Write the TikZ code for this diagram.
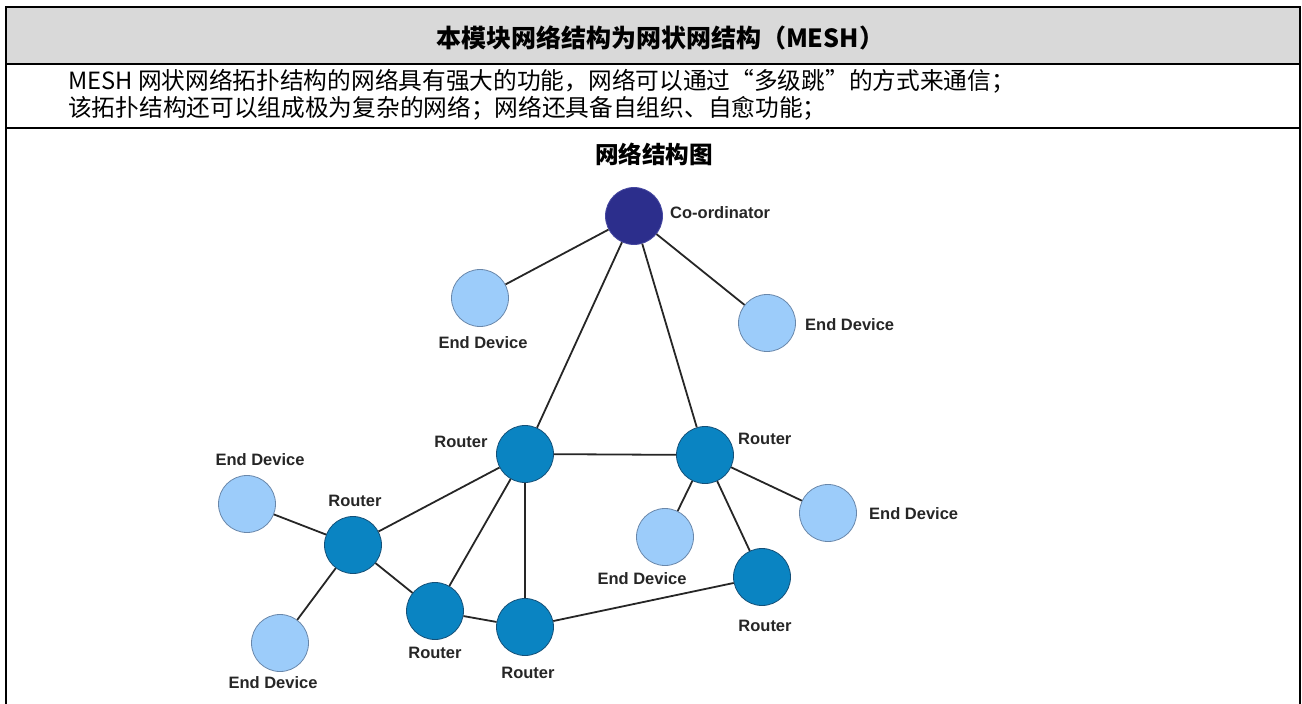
\documentclass[tikz,border=0pt]{standalone}
\usepackage{fontspec}
\usepackage{xcolor}
\usepackage{tikz}
\setmainfont{Liberation Sans}
\newfontfamily\cjk{Noto Sans CJK SC}
\newfontfamily\cjkq[RawFeature=+fwid]{Noto Sans CJK SC}
\definecolor{hdrgray}{RGB}{217,217,217}
\definecolor{crdfill}{RGB}{44,46,140}
\definecolor{crdedge}{RGB}{70,72,160}
\definecolor{rtrfill}{RGB}{10,132,194}
\definecolor{rtredge}{RGB}{20,80,120}
\definecolor{devfill}{RGB}{156,204,250}
\definecolor{devedge}{RGB}{105,135,170}

\begin{document}
\begin{tikzpicture}[x=1pt,y=-1pt,
    rule/.style={line width=2pt},
    dev/.style={circle,minimum size=57pt,inner sep=0pt,line width=0.8pt,draw=devedge,fill=devfill},
    rtr/.style={circle,minimum size=57pt,inner sep=0pt,line width=0.8pt,draw=rtredge,fill=rtrfill},
    crd/.style={circle,minimum size=57pt,inner sep=0pt,line width=0.8pt,draw=crdedge,fill=crdfill},
    lbl/.style={font=\fontsize{16.5}{18}\selectfont\bfseries,text=black!85,inner sep=0pt},
    link/.style={line width=1.8pt,draw=black!85}]
      \useasboundingbox (0,0) rectangle (1302,704);
      \fill[hdrgray] (6,7) rectangle (1300,64);
      \draw[rule] (6,704) -- (6,7) -- (1300,7) -- (1300,704);
      \draw[rule] (6,64) -- (1300,64);
      \draw[rule] (6,128) -- (1300,128);
      \node[font=\cjk\bfseries\fontsize{25}{28}\selectfont] (head) at (660,38) {本模块网络结构为网状网结构（MESH）};
      \node[anchor=west,inner sep=0pt,font=\cjk\fontsize{23.7}{27}\selectfont] (line1) at (68,81)
        {MESH 网状网络拓扑结构的网络具有强大的功能，网络可以通过{\cjkq “}多级跳{\cjkq ”}的方式来通信；};
      \node[anchor=west,inner sep=0pt,font=\cjk\fontsize{23.7}{27}\selectfont] (line2) at (68,108)
        {该拓扑结构还可以组成极为复杂的网络；网络还具备自组织、自愈功能；};
      \node[font=\cjk\bfseries\fontsize{23.6}{27}\selectfont] (title) at (654,154) {网络结构图};
      \node[crd] (co)  at (634,216) {};
      \node[dev] (ed1) at (480,298) {};
      \node[dev] (ed2) at (767,323) {};
      \node[rtr] (r1)  at (525,454) {};
      \node[rtr] (r2)  at (705,455) {};
      \node[dev] (ed3) at (247,504) {};
      \node[rtr] (r3)  at (353,545) {};
      \node[dev] (ed4) at (280,643) {};
      \node[rtr] (r4)  at (435,611) {};
      \node[rtr] (r5)  at (525,627) {};
      \node[dev] (ed5) at (665,537) {};
      \node[dev] (ed6) at (828,513) {};
      \node[rtr] (r6)  at (762,577) {};
      \foreach \a/\b in {co/ed1,co/ed2,co/r1,co/r2,r1/r2,r1/r3,r1/r4,r1/r5,
                         r2/ed5,r2/ed6,r2/r6,r3/ed3,r3/ed4,r3/r4,r4/r5,r5/r6}
        \draw[link] (\a) -- (\b);
      \node[lbl,anchor=west] (lco) at (670,213) {Co-ordinator};
      \node[lbl] (led1) at (483,343) {End Device};
      \node[lbl,anchor=west] (led2) at (805,325) {End Device};
      \node[lbl] (lr1) at (461,442) {Router};
      \node[lbl,anchor=west] (lr2) at (738,439) {Router};
      \node[lbl] (led3) at (260,460) {End Device};
      \node[lbl] (lr3) at (355,501) {Router};
      \node[lbl] (led4) at (273,683) {End Device};
      \node[lbl] (lr4) at (435,653) {Router};
      \node[lbl] (lr5) at (528,673) {Router};
      \node[lbl] (led5) at (642,579) {End Device};
      \node[lbl,anchor=west] (led6) at (869,514) {End Device};
      \node[lbl] (lr6) at (765,626) {Router};
    \end{tikzpicture}
\end{document}
